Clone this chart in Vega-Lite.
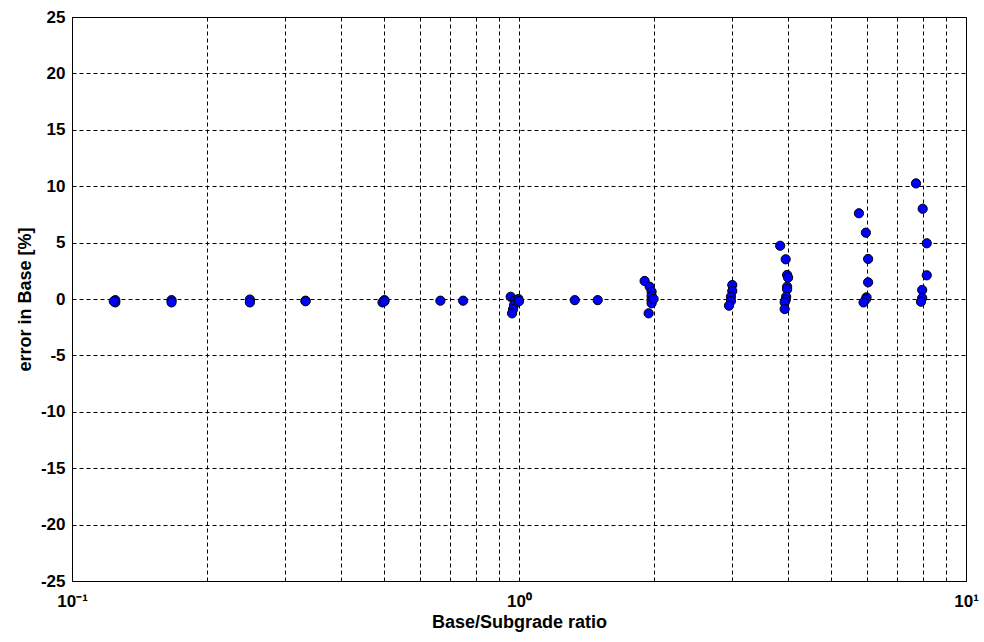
{
  "$schema": "https://vega.github.io/schema/vega-lite/v6.json",
  "width": 894,
  "height": 564,
  "autosize": {"type": "none"},
  "padding": {"left": 72, "top": 17, "right": 18, "bottom": 61},
  "background": "white",
  "config": {
    "view": {"stroke": "black", "strokeWidth": 1},
    "font": "Liberation Sans",
    "axis": {
      "labelFont": "Liberation Sans",
      "labelFontWeight": "bold",
      "labelFontSize": 17,
      "labelColor": "black",
      "titleFont": "Liberation Sans",
      "titleFontWeight": "bold",
      "titleFontSize": 18,
      "titleColor": "black",
      "domainColor": "black",
      "grid": true,
      "gridColor": "black",
      "gridOpacity": 1,
      "gridDash": [4, 3],
      "gridWidth": 1,
      "ticks": false
    }
  },
  "data": {
    "values": [
      {"r": 0.125, "e": -0.1}, {"r": 0.125, "e": -0.3}, {"r": 0.124, "e": -0.2},
      {"r": 0.167, "e": -0.1}, {"r": 0.167, "e": -0.3},
      {"r": 0.25, "e": -0.05}, {"r": 0.25, "e": -0.3},
      {"r": 0.333, "e": -0.15}, {"r": 0.333, "e": -0.2},
      {"r": 0.5, "e": -0.1}, {"r": 0.495, "e": -0.3}, {"r": 0.5, "e": -0.2},
      {"r": 0.667, "e": -0.15},
      {"r": 0.75, "e": -0.15},
      {"r": 0.958, "e": 0.2}, {"r": 0.98, "e": -0.09}, {"r": 0.997, "e": 0.0}, {"r": 0.975, "e": -0.53}, {"r": 0.97, "e": -0.9}, {"r": 0.965, "e": -1.27}, {"r": 1.0, "e": -0.2},
      {"r": 1.333, "e": -0.1},
      {"r": 1.5, "e": -0.1},
      {"r": 1.91, "e": 1.6}, {"r": 1.96, "e": 1.09}, {"r": 1.98, "e": 0.65}, {"r": 1.98, "e": 0.27}, {"r": 1.98, "e": -0.09}, {"r": 1.98, "e": -0.38}, {"r": 1.95, "e": -1.27}, {"r": 2.0, "e": 0.0},
      {"r": 3.0, "e": 1.24}, {"r": 3.0, "e": 0.71}, {"r": 2.98, "e": 0.2}, {"r": 2.98, "e": -0.18}, {"r": 2.95, "e": -0.59},
      {"r": 3.84, "e": 4.72}, {"r": 3.95, "e": 3.52}, {"r": 3.98, "e": 2.13}, {"r": 4.0, "e": 1.89}, {"r": 3.98, "e": 1.09}, {"r": 3.98, "e": 0.86}, {"r": 3.96, "e": 0.2}, {"r": 3.95, "e": -0.09}, {"r": 3.93, "e": -0.3}, {"r": 3.93, "e": -0.89},
      {"r": 5.76, "e": 7.6}, {"r": 5.97, "e": 5.88}, {"r": 6.04, "e": 3.55}, {"r": 6.04, "e": 1.48}, {"r": 5.99, "e": 0.15}, {"r": 5.97, "e": -0.03}, {"r": 5.9, "e": -0.3},
      {"r": 7.73, "e": 10.25}, {"r": 8.0, "e": 8.0}, {"r": 8.17, "e": 4.94}, {"r": 8.17, "e": 2.1}, {"r": 7.98, "e": 0.8}, {"r": 7.98, "e": 0.09}, {"r": 7.93, "e": -0.24}
    ]
  },
  "mark": {"type": "point", "shape": "circle", "filled": true, "size": 85, "fill": "#0000ff", "stroke": "black", "strokeWidth": 1, "opacity": 1, "clip": true},
  "encoding": {
    "x": {
      "field": "r",
      "type": "quantitative",
      "scale": {"type": "log", "domain": [0.1, 10], "nice": false},
      "axis": {
        "title": "Base/Subgrade ratio",
        "values": [0.1, 0.2, 0.3, 0.4, 0.5, 0.6, 0.7, 0.8, 0.9, 1, 2, 3, 4, 5, 6, 7, 8, 9, 10],
        "labelExpr": "datum.value == 0.1 ? '10⁻¹' : datum.value == 1 ? '10⁰' : datum.value == 10 ? '10¹' : ''",
        "labelPadding": 12,
        "labelFlush": false,
        "labelOverlap": false,
        "titlePadding": 4
      }
    },
    "y": {
      "field": "e",
      "type": "quantitative",
      "scale": {"domain": [-25, 25], "nice": false},
      "axis": {
        "title": "error in Base [%]",
        "values": [-25, -20, -15, -10, -5, 0, 5, 10, 15, 20, 25],
        "labelExpr": "'' + datum.value",
        "labelPadding": 7,
        "titlePadding": 6
      }
    }
  }
}
